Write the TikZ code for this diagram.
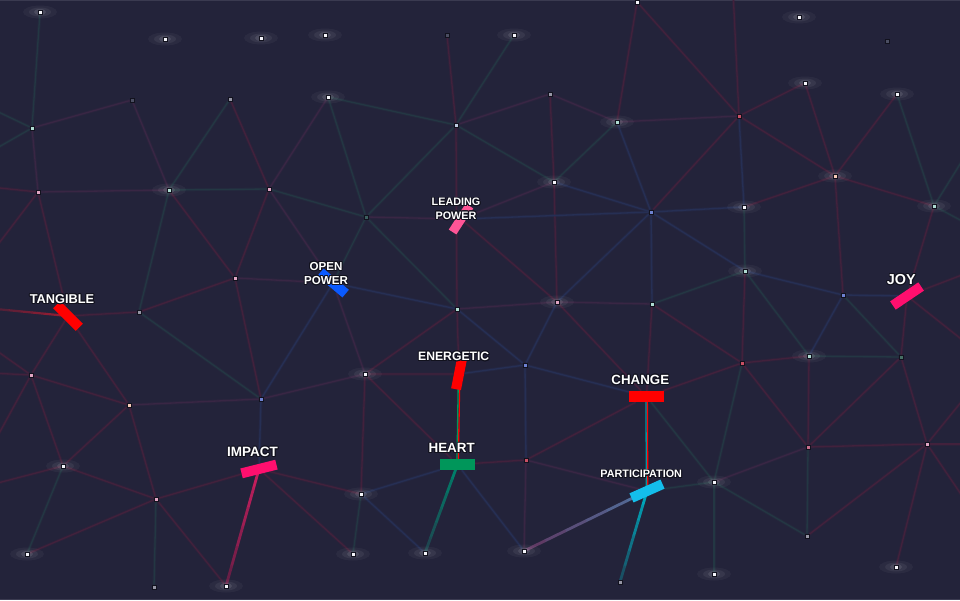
\documentclass[tikz,border=0pt]{standalone}
\usepackage{fontspec}
\setmainfont{Liberation Sans}
\usepackage[copies]{contour}
\contourlength{0.9pt}
\contournumber{16}
\usetikzlibrary{calc}
\pgfdeclarelayer{bgl}
\pgfdeclarelayer{edg}
\pgfdeclarelayer{glw}
\pgfsetlayers{bgl,edg,glw,main}

\definecolor{bgc}{RGB}{35,35,58}
\definecolor{framec}{RGB}{58,58,80}
\definecolor{cer}{RGB}{66,33,60}
\definecolor{cet}{RGB}{35,55,67}
\definecolor{ceb}{RGB}{38,47,84}
\definecolor{cep}{RGB}{57,38,68}
\definecolor{dw}{RGB}{245,245,250}
\definecolor{dbw}{RGB}{190,205,225}
\definecolor{dpk}{RGB}{225,165,195}
\definecolor{drp}{RGB}{200,110,140}
\definecolor{dtl}{RGB}{175,220,210}
\definecolor{dtd}{RGB}{70,110,100}
\definecolor{dbl}{RGB}{110,130,210}
\definecolor{drd}{RGB}{200,80,100}
\definecolor{dpc}{RGB}{250,205,185}
\definecolor{dgr}{RGB}{150,150,165}
\definecolor{ddm}{RGB}{75,78,98}
\definecolor{ddt}{RGB}{60,95,95}
\definecolor{cred}{RGB}{255,0,0}
\definecolor{cblue}{RGB}{10,90,255}
\definecolor{cpink}{RGB}{255,85,150}
\definecolor{cgreen}{RGB}{0,150,90}
\definecolor{cmag}{RGB}{255,15,110}
\definecolor{ccyan}{RGB}{20,190,235}
\definecolor{outl}{RGB}{18,18,30}
\definecolor{sgreen}{RGB}{0,150,90}
\definecolor{steal}{RGB}{0,150,160}
\definecolor{gimpa}{RGB}{195,30,92}
\definecolor{gimpb}{RGB}{105,30,70}
\definecolor{gheara}{RGB}{0,125,105}
\definecolor{ghearb}{RGB}{30,70,80}
\definecolor{gpara}{RGB}{80,110,155}
\definecolor{gparb}{RGB}{95,58,100}
\definecolor{gparc}{RGB}{0,165,185}
\definecolor{gpard}{RGB}{25,80,100}
\definecolor{gtana}{RGB}{155,28,50}
\definecolor{gtanb}{RGB}{85,32,55}

\newcommand\olab[1]{\contour{outl}{#1}}
% gradient connector: from, to, colour A, colour B, width
\newcommand\gline[5]{%
  \foreach \i in {0,...,5}{%
    \pgfmathsetmacro\ta{\i/6}%
    \pgfmathsetmacro\tb{(\i+1)/6}%
    \pgfmathtruncatemacro\pc{100-\i*20}%
    \draw[line width=#5, color=#3!\pc!#4, line cap=round]
      ($(#1)!\ta!(#2)$) -- ($(#1)!\tb!(#2)$);}}

\begin{document}
\begin{tikzpicture}[x=1pt,y=-1pt,
  dot/.style={rectangle, inner sep=0pt, minimum size=4pt, draw=outl, line width=0.8pt},
  bar/.style={rectangle, inner sep=0pt, draw=none, minimum height=10pt},
  lbl/.style={inner sep=0pt, text=white, align=center},
  lnR/.style={draw=cer, line width=1.3pt, preaction={draw=cer, line width=3pt, opacity=0.35}},
  lnT/.style={draw=cet, line width=1.3pt, preaction={draw=cet, line width=3pt, opacity=0.35}},
  lnB/.style={draw=ceb, line width=1.3pt, preaction={draw=ceb, line width=3pt, opacity=0.35}},
  lnP/.style={draw=cep, line width=1.3pt, preaction={draw=cep, line width=3pt, opacity=0.35}}]
\useasboundingbox (0,0) rectangle (960,600);
\begin{pgfonlayer}{bgl}
\fill[bgc] (0,0) rectangle (960,600);
\draw[framec, line width=1.5pt] (0,0.5) -- (960,0.5);
\draw[framec, line width=1.5pt] (0,599.5) -- (960,599.5);
\end{pgfonlayer}

% dots
\foreach \n/\x/\y/\c in {
 s1/40/12/dw, s2/165/39/dw, s3/261/38/dw, s4/325/35/dw, s5/447/35/ddm,
 s6/514/35/dw, s7/637/2/dw, s8/799/17/dw, s9/887/41/ddm, s10/132/100/ddm,
 s11/230/99/dgr, s12/328/97/dw, s13/550/94/dgr, s14/805/83/dw, s15/897/94/dw,
 n1/32/128/dtl, n2/456/125/dbw, n3/617/122/dtl, n4/739/116/drd, n5/38/192/dpk,
 n6/169/190/dtl, n7/269/189/dpk, n8/366/217/ddt, n9/554/182/dw, n10/651/212/dbl,
 n11/744/207/dw, n12/835/176/dpc, n13/934/206/dtl, n14/235/278/dpk, n15/139/312/dgr,
 n16/457/309/dtl, n17/557/302/dpk, n18/652/304/dtl, n19/745/271/dtl, n20/843/295/dbl,
 n21/31/375/dpk, n22/129/405/dpc, n23/261/399/dbl, n24/365/374/dw, n25/525/365/dbl,
 n26/742/363/drd, n27/809/356/dtl, n28/901/357/dtd, n29/63/466/dw, n30/156/499/dpk,
 n31/526/460/drd, n32/714/482/dw, n33/808/447/drp, n34/927/444/dpk,
 b1/27/554/dw, b2/154/587/dgr, b3/226/586/dw, b4/361/494/dw, b5/353/554/dw,
 b6/425/553/dw, b7/524/551/dw, b8/620/582/dgr, b9/714/574/dw, b10/807/536/dgr, b11/896/567/dw}
 {\node[dot, fill=\c] (\n) at (\x,\y) {};}

% bars
\node[bar, fill=cred,  minimum width=32pt, rotate=-45] (TAN) at (68,316) {};
\node[bar, fill=cblue, minimum width=33pt, rotate=-40] (OPW) at (333,283) {};
\node[bar, fill=cpink, minimum width=31pt, minimum height=9pt, rotate=57] (LDP) at (461,219) {};
\node[bar, fill=cred,  minimum width=31pt, rotate=79] (ENE) at (459,374) {};
\node[bar, fill=cred,  minimum width=35pt, minimum height=11pt] (CHG) at (646.5,396.5) {};
\node[bar, fill=cgreen, minimum width=35pt, minimum height=11pt] (HRT) at (457.5,464.5) {};
\node[bar, fill=cmag,  minimum width=36pt, rotate=14] (IMP) at (259,469) {};
\node[bar, fill=ccyan, minimum width=34pt, rotate=24] (PAR) at (647,491) {};
\node[bar, fill=cmag,  minimum width=34pt, rotate=34] (JOY) at (907,296) {};

% labels
\node[lbl, font=\fontsize{12.8}{15}\selectfont\bfseries] (tTAN) at (62,299.5) {\olab{TANGIBLE}};
\node[lbl, font=\fontsize{11.6}{14.3}\selectfont\bfseries] (tOPW) at (326,273.8) {\olab{OPEN}\\\olab{POWER}};
\node[lbl, font=\fontsize{10.8}{13.7}\selectfont\bfseries] (tLDP) at (456,209.5) {\olab{LEADING}\\\olab{POWER}};
\node[lbl, font=\fontsize{12.2}{15}\selectfont\bfseries] (tENE) at (453.7,357) {\olab{ENERGETIC}};
\node[lbl, font=\fontsize{13.3}{15}\selectfont\bfseries] (tCHG) at (640.3,380.3) {\olab{CHANGE}};
\node[lbl, font=\fontsize{13.4}{15}\selectfont\bfseries] (tHRT) at (451.7,448.7) {\olab{HEART}};
\node[lbl, font=\fontsize{13.5}{15}\selectfont\bfseries] (tIMP) at (252.5,452.5) {\olab{IMPACT}};
\node[lbl, font=\fontsize{14.4}{16}\selectfont\bfseries] (tJOY) at (901.3,280) {\olab{JOY}};
\node[lbl, font=\fontsize{10.8}{13}\selectfont\bfseries] (tPAR) at (641.2,474.7) {\olab{PARTICIPATION}};

% off-canvas ends
\coordinate (o1) at (-10,108);
\coordinate (o2) at (-10,152);
\coordinate (o3) at (-10,187);
\coordinate (o4) at (-10,255);
\coordinate (o5) at (-4,309);
\coordinate (o6) at (-10,346);
\coordinate (o7) at (-10,373);
\coordinate (o8) at (-10,450);
\coordinate (o9) at (-10,485);
\coordinate (o10) at (733,-10);
\coordinate (o11) at (975,140);
\coordinate (o12) at (975,228);
\coordinate (o13) at (975,270);
\coordinate (o14) at (975,350);
\coordinate (o15) at (975,385);
\coordinate (o16) at (975,444);
\coordinate (o17) at (975,515);

\begin{pgfonlayer}{edg}
\foreach \a/\b in {n2/s5, s11/n7, n5/o4, n5/TAN, o3/n5, TAN/n15, TAN/n21, TAN/n22,
  n21/o6, n21/o7, n21/n22, n21/n29, n21/o8, n15/n14, n14/n6, n14/n7, n14/n23,
  n2/n16, s13/n9, n3/s7, n9/n17, n4/o10, n4/s7, n4/s14, n4/n10, n4/n12, s14/n12,
  s15/n12, n12/n11, n12/n13, n12/n20, n13/JOY, LDP/n17, n16/n24, n16/ENE, n17/CHG,
  n24/ENE, n24/b4, n24/HRT, n18/n26, n18/CHG, n19/n26, JOY/o13, JOY/o14, JOY/n28,
  n27/n26, n27/n33, n26/CHG, n26/n33, n28/n34, n28/n33, n34/n33, n34/o15, n34/o16,
  n34/o17, n34/b11, n34/b10, n22/n29, n22/n30, n29/o9, n29/n30, n30/IMP, n30/b1,
  n30/b3, IMP/b4, IMP/b5, HRT/n31, n31/CHG}
  {\draw[lnR] (\a) -- (\b);}
\foreach \a/\b in {n7/n8, n1/s1, n1/o1, n1/o2, n15/n6, n15/n23, s11/n6, n6/n7,
  n8/s12, n8/n2, n8/OPW, n8/n16, n2/s6, n2/s12, n2/n9, n9/n3, s15/n13, n13/o11,
  n13/o12, n18/n19, n11/n19, n19/n27, n20/n28, n27/n28, n26/n32, n33/b10, n32/b9,
  n32/PAR, n32/CHG, n32/b10, n29/b1, n30/b2, b4/b5}
  {\draw[lnT] (\a) -- (\b);}
\foreach \a/\b in {n3/n10, n4/n11, LDP/n10, n9/n10, n16/n25, n16/OPW, n17/n10,
  n17/n25, OPW/n23, ENE/n25, n25/n31, n25/CHG, n10/n18, n10/n11, n10/n19, n19/n20,
  n20/JOY, n20/n27, IMP/n23, b4/HRT, b4/b6, HRT/b7}
  {\draw[lnB] (\a) -- (\b);}
\foreach \a/\b in {n1/s10, n5/n6, s10/n6, n7/s12, n1/n5, n14/OPW, n7/OPW, n8/LDP,
  n2/s13, s13/n3, n3/n4, n9/LDP, n16/n17, n17/n18, OPW/n24, n24/n23, n33/n32,
  n22/n23, n31/PAR, n31/b7}
  {\draw[lnP] (\a) -- (\b);}
% strong connectors
\gline{IMP.center}{b3}{gimpa}{gimpb}{2.8pt}
\gline{HRT.center}{b6}{gheara}{ghearb}{2.8pt}
\gline{PAR.center}{b7}{gpara}{gparb}{2.8pt}
\gline{PAR.center}{b8}{gparc}{gpard}{2.8pt}
\gline{TAN.center}{o5}{gtana}{gtanb}{2.2pt}
\draw[line width=1.3pt, cred] ([xshift=0.8pt]ENE.center) -- ([xshift=0.8pt]HRT.center);
\draw[line width=1.3pt, sgreen] ([xshift=-0.6pt]ENE.center) -- ([xshift=-0.6pt]HRT.center);
\draw[line width=1.3pt, cred] ([xshift=0.8pt]CHG.center) -- ([xshift=0.8pt]PAR.center);
\draw[line width=1.3pt, steal] ([xshift=-0.6pt]CHG.center) -- ([xshift=-0.6pt]PAR.center);
\end{pgfonlayer}

\begin{pgfonlayer}{glw}
\foreach \n in {s1,s2,s3,s4,s6,s8,s12,s14,s15,n3,n6,n9,n11,n12,n13,n17,n19,n24,n27,
  n29,n32,b1,b3,b4,b5,b6,b7,b9,b11}
  {\fill[white, opacity=0.04] (\n) ellipse (17 and 6.5);
   \fill[white, opacity=0.06] (\n) ellipse (11 and 4.5);
   \fill[white, opacity=0.1] (\n) ellipse (6 and 3);}
\end{pgfonlayer}
\end{tikzpicture}
\end{document}
